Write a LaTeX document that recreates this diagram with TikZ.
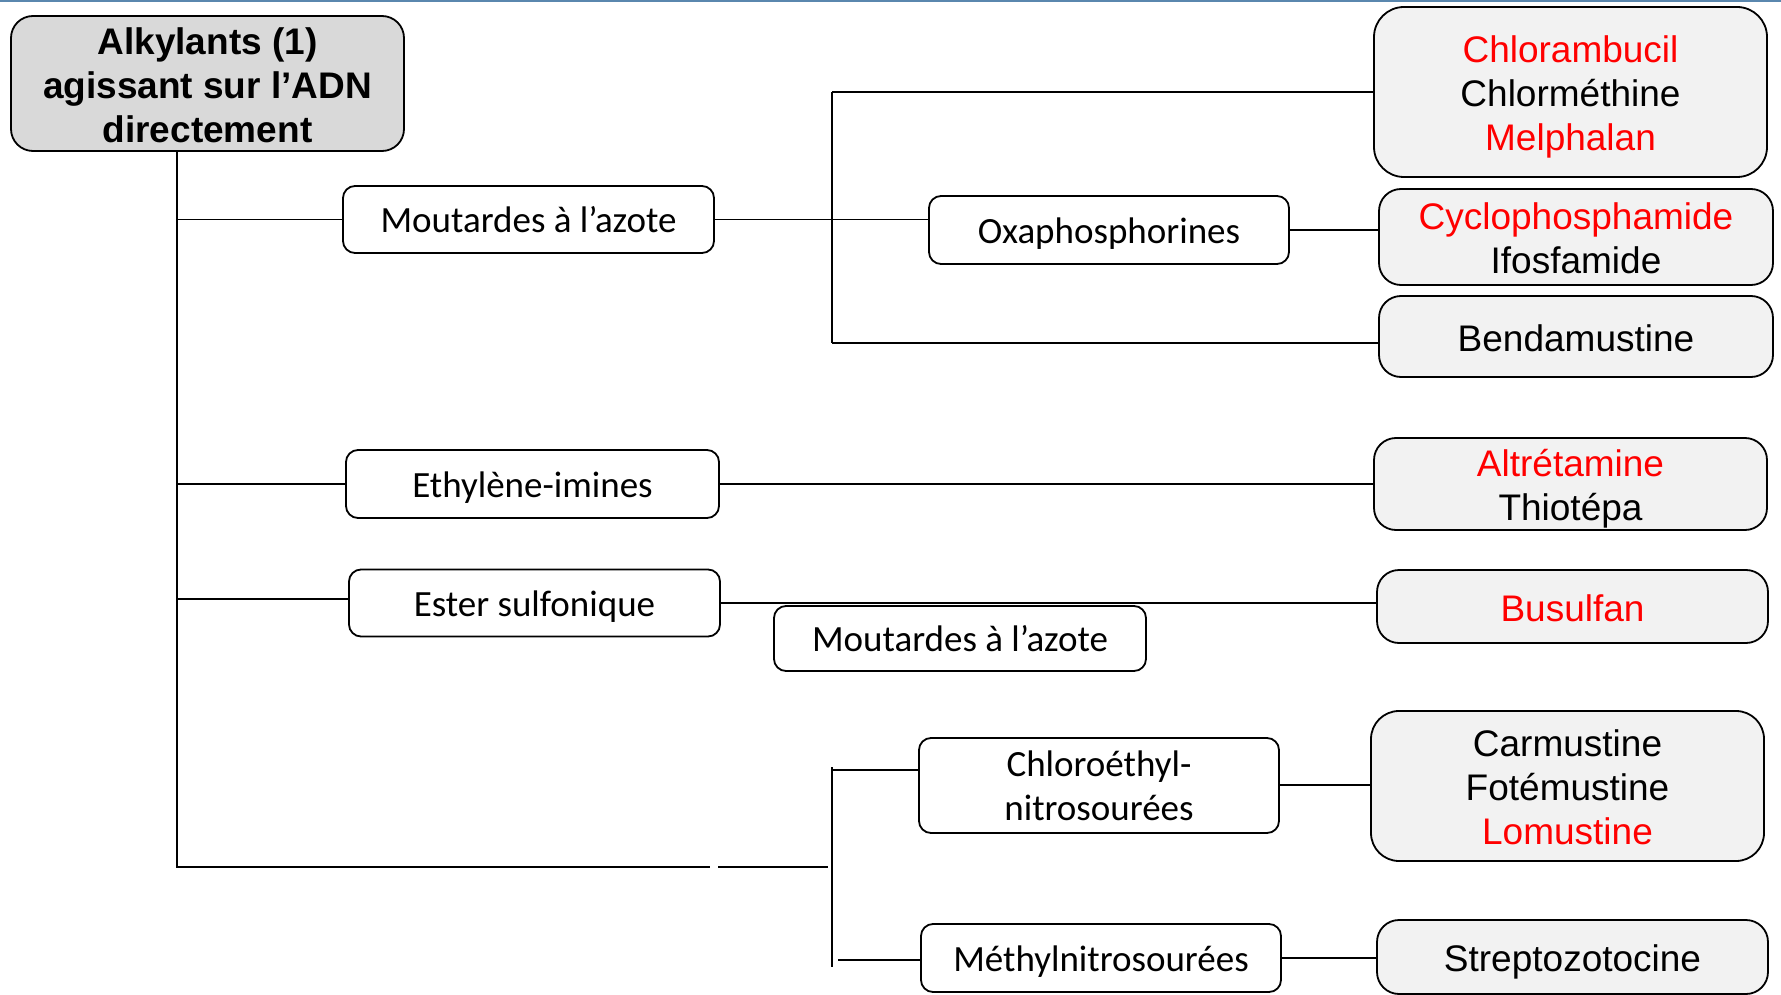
\documentclass[tikz,border=0pt]{standalone}
\usepackage{fontspec}
\setmainfont{Liberation Sans}
\newfontfamily\calf{Carlito}
\definecolor{rootfill}{HTML}{D9D9D9}
\definecolor{leaffill}{HTML}{F2F2F2}
\definecolor{drugred}{HTML}{FF0000}
\definecolor{topline}{HTML}{5A87AE}
% each line counts only its cap height, so the lettering is centred in its box
\newcommand{\al}[1]{\raisebox{-1.5pt}[0.716em][0pt]{#1}}
\newcommand{\kl}[1]{\raisebox{-1.5pt}[0.644em][0pt]{#1}}
\newcommand{\hl}[1]{\textcolor{drugred}{#1}}

\tikzset{
  wire/.style={line width=1.8pt, black},
  rootbox/.style={draw, line width=1.8pt, fill=rootfill, rounded corners=22pt,
    inner sep=0pt, align=center, font=\fontsize{37}{44}\selectfont\bfseries},
  classbox/.style={draw, line width=1.8pt, fill=white, rounded corners=12pt,
    inner sep=0pt, align=center, font=\calf\fontsize{37}{44}\selectfont},
  drugbox/.style={draw, line width=1.8pt, fill=leaffill, rounded corners=22pt,
    inner sep=0pt, align=center, font=\fontsize{37}{44}\selectfont},
}

\begin{document}
\begin{tikzpicture}[x=1pt, y=-1pt]
\useasboundingbox (0,0) rectangle (1781,995);
\draw[topline, line width=2pt] (0,1) -- (1781,1);

% root
\node[rootbox, minimum width=393pt, minimum height=135pt] (root) at (207.5,83.5)
  {\al{Alkylants (1)}\\\al{agissant sur l’ADN}\\\al{directement}};

% drug families
\node[classbox, minimum width=371pt, minimum height=67pt] (mou1) at (528.5,219.5) {\kl{Moutardes à l’azote}};
\node[classbox, minimum width=360pt, minimum height=68pt] (oxa) at (1109,230) {\kl{Oxaphosphorines}};
\node[classbox, minimum width=373pt, minimum height=68pt] (eth) at (532.5,484) {\kl{Ethylène-imines}};
\node[classbox, minimum width=371pt, minimum height=67pt] (est) at (534.5,603) {\kl{Ester sulfonique}};
\node[classbox, minimum width=372pt, minimum height=65pt] (mou2) at (960,638.5) {\kl{Moutardes à l’azote}};
\node[classbox, minimum width=360pt, minimum height=95pt] (chlo) at (1099,785.5) {\kl{Chloroéthyl-}\\\kl{nitrosourées}};
\node[classbox, minimum width=360pt, minimum height=68pt] (met) at (1101,958) {\kl{Méthylnitrosourées}};

% drugs
\node[drugbox, minimum width=393pt, minimum height=170pt, rounded corners=30pt] (chl) at (1570.5,92)
  {\al{\hl{Chlorambucil}}\\\al{Chlorméthine}\\\al{\hl{Melphalan}}};
\node[drugbox, minimum width=394pt, minimum height=96pt] (cyc) at (1576,237)
  {\al{\hl{Cyclophosphamide}}\\\al{Ifosfamide}};
\node[drugbox, minimum width=394pt, minimum height=81pt] (ben) at (1576,336.5) {\al{Bendamustine}};
\node[drugbox, minimum width=393pt, minimum height=92pt] (alt) at (1570.5,484)
  {\al{\hl{Altrétamine}}\\\al{Thiotépa}};
\node[drugbox, minimum width=391pt, minimum height=73pt] (bus) at (1572.5,606.5) {\al{\hl{Busulfan}}};
\node[drugbox, minimum width=393pt, minimum height=150pt, rounded corners=28pt] (car) at (1567.5,786)
  {\al{Carmustine}\\\al{Fotémustine}\\\al{\hl{Lomustine}}};
\node[drugbox, minimum width=391pt, minimum height=74pt] (str) at (1572.5,957) {\al{Streptozotocine}};

% junction points
\coordinate (tEnd) at (177,867);
\coordinate (gapL) at (710,867);
\coordinate (gapR) at (718,867);
\coordinate (nJ) at (828,867);
\coordinate (eB) at (177,599);
\coordinate (nTop) at (832,767);
\coordinate (nBot) at (832,967);
\coordinate (nA) at (832,770);
\coordinate (cA) at (1279,785);
\coordinate (mA) at (838,960);
\coordinate (mTop) at (832,92);
\coordinate (mBot) at (832,343);

% main trunk
\draw[wire] (root.south -| tEnd) -- (tEnd) -- (gapL);
\draw[wire] (gapR) -- (nJ);
\draw[wire] (tEnd |- mou1.west) -- (mou1.west);
\draw[wire] (tEnd |- eth.west) -- (eth.west);
\draw[wire] (eB) -- (eB -| est.west);

% nitrogen mustards
\draw[wire] (mTop) -- (mBot);
\draw[wire] (mTop) -- (mTop -| chl.west);
\draw[wire] (mBot) -- (mBot -| ben.west);
\draw[wire] (mou1.east) -- (mou1.east -| oxa.west);
\draw[wire] (oxa.east) -- (oxa.east -| cyc.west);

% aziridines and sulfonates
\draw[wire] (eth.east) -- (eth.east -| alt.west);
\draw[wire] (est.east) -- (est.east -| bus.west);

% nitrosoureas
\draw[wire] (nTop) -- (nBot);
\draw[wire] (nA) -- (nA -| chlo.west);
\draw[wire] (chlo.east |- cA) -- (cA -| car.west);
\draw[wire] (mA) -- (mA -| met.west);
\draw[wire] (met.east) -- (met.east -| str.west);
\end{tikzpicture}
\end{document}
